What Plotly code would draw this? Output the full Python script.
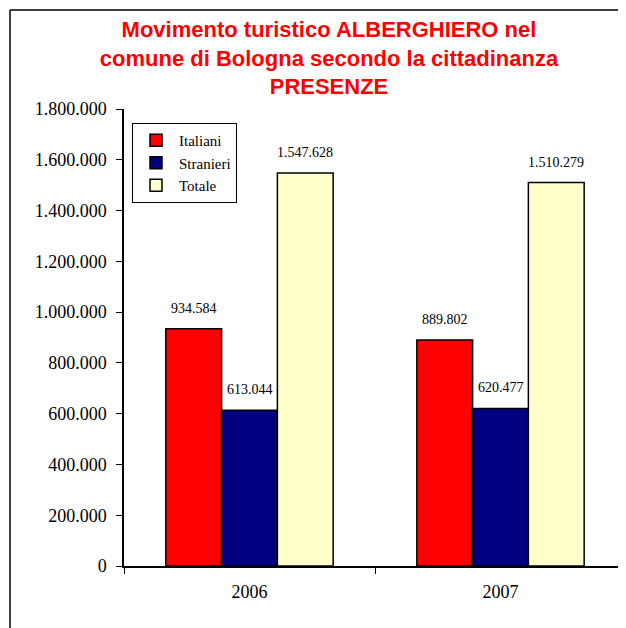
import plotly.graph_objects as go

years = ["2006", "2007"]
italiani = [934584, 889802]
stranieri = [613044, 620477]
totale = [1547628, 1510279]
series_names = ["Italiani", "Stranieri", "Totale"]
series_values = [italiani, stranieri, totale]
colors = ["#FF0000", "#000080", "#FFFFCC"]

bargap = 1/3
bw = (1 - bargap) / 3

# the page body has an 8px margin; layout positions compensate for it
OFF = 8
L, T, R, B = 124 - OFF, 109 - OFF, 626 - OFF, 566 - OFF
W, H = 626, 628
PW, PH = R - L, B - T

fig = go.Figure()
for name, vals, col in zip(series_names, series_values, colors):
    fig.add_trace(go.Bar(
        x=years, y=vals, name=name,
        marker=dict(color=col, line=dict(color="black", width=1.5)),
    ))

annotations = []
for j, vals in enumerate(series_values):
    for i, v in enumerate(vals):
        annotations.append(dict(
            x=i + (j - 1) * bw, y=v, xref="x", yref="y",
            text=f"{v:,}".replace(",", "."),
            showarrow=False, yanchor="bottom", yshift=11,
            font=dict(family="Liberation Serif", size=14, color="black"),
        ))

fig.update_layout(
    width=W, height=H,
    margin=dict(l=L, r=W - R, t=T, b=H - B, autoexpand=False),
    paper_bgcolor="white", plot_bgcolor="white",
    separators=",.",
    barmode="group", bargap=bargap, bargroupgap=0,
    title=dict(
        text="Movimento turistico ALBERGHIERO nel<br>comune di Bologna secondo la cittadinanza<br>PRESENZE",
        x=(329 - OFF) / W, xanchor="center", xref="container",
        y=1 - 29 / H, yanchor="top", yref="container",
        font=dict(family="Liberation Sans", size=22, color="#FF0000", weight="bold"),
    ),
    xaxis=dict(
        type="category", range=[-0.5, 1.5], automargin=False,
        showline=True, linecolor="black", linewidth=1.5,
        ticks="outside", tickson="boundaries", ticklen=6, tickcolor="black",
        ticklabelstandoff=9,
        tickfont=dict(family="Liberation Serif", size=18, color="black"),
        showgrid=False,
    ),
    yaxis=dict(
        range=[0, 1800000], tickvals=[i * 200000 for i in range(10)],
        tickformat=",", automargin=False,
        showline=True, linecolor="black", linewidth=1.5,
        ticks="outside", ticklen=6, tickcolor="black",
        ticklabelstandoff=6,
        tickfont=dict(family="Liberation Serif", size=18, color="black"),
        showgrid=False, zeroline=False,
    ),
    legend=dict(
        x=(132 - 124) / PW, y=1 + (109 - 123) / PH,
        xanchor="left", yanchor="top",
        bordercolor="black", borderwidth=1, bgcolor="white",
        font=dict(family="Liberation Serif", size=15, color="black"),
        tracegroupgap=0, itemwidth=36,
    ),
    annotations=annotations,
    showlegend=True,
)

# outer frame
fx = (10 - 124) / PW
fy = 1 + (109 - 10) / PH
fig.add_shape(type="line", xref="paper", yref="paper", x0=fx, x1=fx, y0=-0.3, y1=fy,
              line=dict(color="black", width=1.5))
fig.add_shape(type="line", xref="paper", yref="paper", x0=fx, x1=1.2, y0=fy, y1=fy,
              line=dict(color="black", width=1.5))

fig.write_html("out.html")
